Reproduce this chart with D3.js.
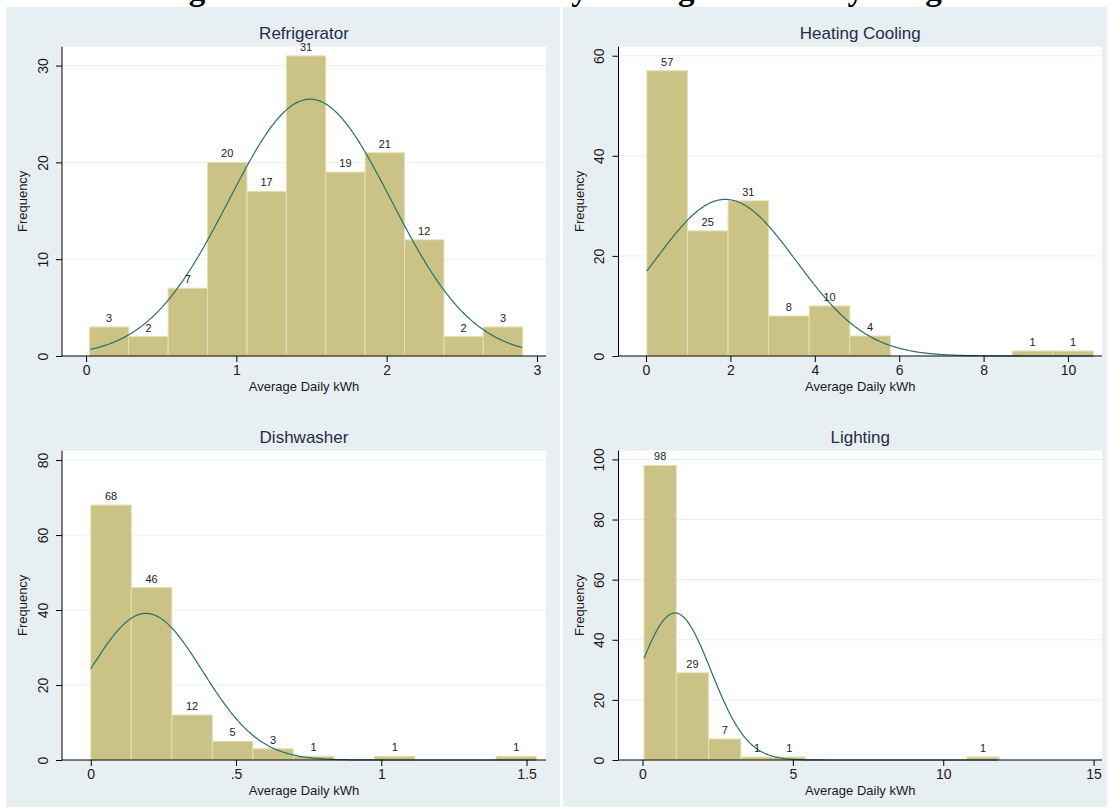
<!DOCTYPE html>
<html><head><meta charset="utf-8">
<script src="https://cdn.jsdelivr.net/npm/d3@7"></script>
<style>
html,body{margin:0;padding:0;background:#fff;}
svg{display:block;}
</style></head>
<body>
<svg id="chart" width="1109" height="808"></svg>
<script>
// ---------- data ----------
const figureTitle = "Figure 4: Distribution of Daily Average Electricity Usage";
const panelTitles = ["Refrigerator", "Heating Cooling", "Dishwasher", "Lighting"];
const refrigeratorCounts = [3, 2, 7, 20, 17, 31, 19, 21, 12, 2, 3];
const heatingCoolingCounts = [57, 25, 31, 8, 10, 4, 0, 0, 0, 1, 1];
const dishwasherCounts = [68, 46, 12, 5, 3, 1, 0, 1, 0, 0, 1];
const lightingCounts = [98, 29, 7, 1, 1, 0, 0, 0, 0, 0, 1];
const binStarts = [0.022, 0.02, 0.0, 0.05];
const binWidths = [0.2621, 0.962, 0.1395, 1.074];
const normalMeans = [1.49, 1.88, 0.19, 1.08];
const normalSDs = [0.54, 1.68, 0.195, 1.2];
const dataRanges = [[0.03, 2.9], [0.02, 10.6], [0.0, 1.53], [0.05, 11.8]];
const xTickValues = [[0, 1, 2, 3], [0, 2, 4, 6, 8, 10], [0, 0.5, 1, 1.5], [0, 5, 10, 15]];
const xTickLabels = [["0", "1", "2", "3"], ["0", "2", "4", "6", "8", "10"], ["0", ".5", "1", "1.5"], ["0", "5", "10", "15"]];
const yTickValues = [[0, 10, 20, 30], [0, 20, 40, 60], [0, 20, 40, 60, 80], [0, 20, 40, 60, 80, 100]];
const xDomains = [[-0.16, 3.06], [-0.652, 10.806], [-0.099, 1.567], [-0.798, 15.28]];
const yDomains = [[0, 31.95], [0, 61.8], [0, 82.5], [0, 102.9]];
const xTitle = "Average Daily kWh";
const yTitle = "Frequency";

const allCounts = [refrigeratorCounts, heatingCoolingCounts, dishwasherCounts, lightingCounts];

// ---------- layout ----------
const svg = d3.select("#chart");
const BG = "#e8eff2";
const colX = [[62, 546], [618.5, 1102]];
const rowY = [[46.7, 356], [450.7, 760]];
const colBg = [[6, 560], [563, 1107]];
const FONT = "'Liberation Sans', Arial, sans-serif";

// panel backgrounds
colBg.forEach(c => {
  svg.append("rect").attr("x", c[0]).attr("y", 7).attr("width", c[1] - c[0]).attr("height", 800)
    .attr("fill", BG);
});

// figure title (cropped at the top edge, as in the source image)
svg.append("text").attr("x", 558).attr("y", 0)
  .attr("text-anchor", "middle")
  .attr("font-family", "'Liberation Serif', 'Times New Roman', serif")
  .attr("font-weight", "bold").attr("font-size", 33).attr("fill", "#000")
  .text(figureTitle);

const defs = svg.append("defs");

panelTitles.forEach((title, i) => {
  const col = i % 2, row = Math.floor(i / 2);
  const [x0, x1] = colX[col];
  const [y0, y1] = rowY[row];
  const counts = allCounts[i];
  const x = d3.scaleLinear().domain(xDomains[i]).range([x0, x1]);
  const y = d3.scaleLinear().domain(yDomains[i]).range([y1, y0]);
  const g = svg.append("g");

  // plot region
  g.append("rect").attr("x", x0).attr("y", y0).attr("width", x1 - x0).attr("height", y1 - y0).attr("fill", "#fff");

  // gridlines
  g.append("g").selectAll("line").data(yTickValues[i].filter(v => v > 0)).join("line")
    .attr("x1", x0).attr("x2", x1).attr("y1", d => y(d)).attr("y2", d => y(d))
    .attr("stroke", "#e6eef1").attr("stroke-width", 1);

  // bars
  const bins = counts.map((c, k) => ({ c, a: binStarts[i] + k * binWidths[i], b: binStarts[i] + (k + 1) * binWidths[i] }));
  g.append("g").selectAll("rect").data(bins.filter(d => d.c > 0)).join("rect")
    .attr("x", d => x(d.a)).attr("width", d => x(d.b) - x(d.a))
    .attr("y", d => y(d.c)).attr("height", d => y(0) - y(d.c))
    .attr("fill", "#cbc385").attr("stroke", "#e4e0b6").attr("stroke-width", 1);

  // normal curve
  const [ra, rb] = dataRanges[i];
  const mu = normalMeans[i], sd = normalSDs[i];
  const scaleN = d3.sum(counts) * binWidths[i];
  const pts = d3.range(0, 301).map(k => {
    const xv = ra + (rb - ra) * k / 300;
    const z = (xv - mu) / sd;
    return [xv, scaleN * Math.exp(-0.5 * z * z) / (sd * Math.sqrt(2 * Math.PI))];
  });
  g.append("path").datum(pts)
    .attr("d", d3.line().x(d => x(d[0])).y(d => y(d[1])))
    .attr("fill", "none").attr("stroke", "#2b6f68").attr("stroke-width", 1.2);

  // bar labels
  const clipId = "clip" + i;
  defs.append("clipPath").attr("id", clipId).append("rect")
    .attr("x", x0 - 20).attr("y", y0 - 6).attr("width", x1 - x0 + 40).attr("height", y1 - y0 + 6);
  g.append("g").attr("clip-path", `url(#${clipId})`).selectAll("text").data(bins.filter(d => d.c > 0)).join("text")
    .attr("x", d => x((d.a + d.b) / 2)).attr("y", d => y(d.c) - 5)
    .attr("text-anchor", "middle").attr("font-family", FONT).attr("font-size", 11).attr("fill", "#222")
    .text(d => d.c);

  // axes
  const xAxis = d3.axisBottom(x).tickValues(xTickValues[i]).tickFormat((d, k) => xTickLabels[i][k]).tickSize(6).tickSizeOuter(0).tickPadding(3);
  const xa = g.append("g").attr("transform", `translate(0,${y1})`).call(xAxis);
  xa.select(".domain").attr("stroke", "#000").attr("d", `M${x0},0H${x1}`);
  xa.selectAll(".tick line").attr("stroke", "#000");
  xa.selectAll(".tick text").attr("font-family", FONT).attr("font-size", 14).attr("fill", "#1a1a1a");

  const yAxis = d3.axisLeft(y).tickValues(yTickValues[i]).tickSize(6).tickSizeOuter(0).tickPadding(4);
  const ya = g.append("g").attr("transform", `translate(${x0},0)`).call(yAxis);
  ya.select(".domain").attr("stroke", "#000").attr("d", `M0,${y0}V${y1}`);
  ya.selectAll(".tick line").attr("stroke", "#000");
  ya.selectAll(".tick text").attr("font-family", FONT).attr("font-size", 14).attr("fill", "#1a1a1a")
    .attr("text-anchor", "middle").attr("x", null)
    .attr("transform", "translate(-19,0) rotate(-90)").attr("y", 0).attr("dy", "0.35em");

  // titles
  g.append("text").attr("x", (x0 + x1) / 2).attr("y", y0 - 8)
    .attr("text-anchor", "middle").attr("font-family", FONT).attr("font-size", 17).attr("fill", "#1f2d4a")
    .text(title);
  g.append("text").attr("x", (x0 + x1) / 2).attr("y", y1 + 35)
    .attr("text-anchor", "middle").attr("font-family", FONT).attr("font-size", 13).attr("fill", "#1a1a1a")
    .text(xTitle);
  g.append("text").attr("transform", `translate(${x0 - 35},${(y0 + y1) / 2}) rotate(-90)`)
    .attr("text-anchor", "middle").attr("font-family", FONT).attr("font-size", 13).attr("fill", "#1a1a1a")
    .text(yTitle);
});
</script>
</body></html>
